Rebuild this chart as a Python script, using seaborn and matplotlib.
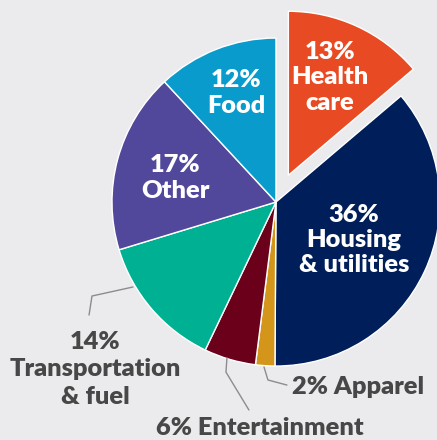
import numpy as np
import matplotlib.pyplot as plt
import seaborn as sns

categories = ["Health care", "Housing & utilities", "Apparel", "Entertainment",
              "Transportation & fuel", "Other", "Food"]
shares = [13.8, 36.3, 1.9, 5.1, 13.2, 17.8, 11.9]
pct_labels = ["13%", "36%", "2%", "6%", "14%", "17%", "12%"]
colors = ["#e84b23", "#001f5a", "#d3961a", "#6a0019", "#00b092", "#52489b", "#0a9bcd"]
explode = [0.18, 0, 0, 0, 0, 0, 0]

bg = "#ebebed"
sns.set_theme(style="white", rc={"figure.facecolor": bg, "axes.facecolor": bg})
plt.rcParams["font.family"] = ["Lato", "DejaVu Sans"]

fig = plt.figure(figsize=(4.37, 4.40), dpi=100)
ax = fig.add_axes([0, 0, 1, 1])

wedges, _ = ax.pie(shares, colors=colors, explode=explode, startangle=90,
                   counterclock=False,
                   wedgeprops=dict(edgecolor="white", linewidth=1))
ax.set_aspect("auto")
ax.set_xlim(-1.683, 0.982)
ax.set_ylim(-1.451, 1.232)
ax.axis("off")

fs = 18.3
wt = "heavy"

# Labels inside the pie
inside = {
    0: ("13%\nHealth\ncare", (0.33, 0.76)),
    1: ("36%\nHousing\n& utilities", (0.476, -0.232)),
    5: ("17%\nOther", (-0.616, 0.146)),
    6: ("12%\nFood", (-0.244, 0.665)),
}
for i, (txt, pos) in inside.items():
    ax.text(pos[0], pos[1], txt, ha="center", va="center", color="white",
            fontsize=fs, fontweight=wt, linespacing=1.18)

# Labels outside with leader lines
grey_txt = "#474747"
line_c = "#8c8c8c"

ax.plot([-0.872, -1.122, -1.14], [-0.518, -0.573, -0.689], color=line_c, lw=1)
ax.text(-1.104, -1.02, "14%\nTransportation\n& fuel", ha="center", va="center",
        color=grey_txt, fontsize=fs, fontweight=wt, linespacing=1.3)

ax.plot([-0.299, -0.305, -0.165], [-0.951, -1.037, -1.268], color=line_c, lw=1)
ax.text(-0.098, -1.378, "6% Entertainment", ha="center", va="center",
        color=grey_txt, fontsize=fs, fontweight=wt)

ax.plot([-0.073, -0.049, 0.067], [-1.006, -1.085, -1.116], color=line_c, lw=1)
ax.text(0.5, -1.128, "2% Apparel", ha="center", va="center",
        color=grey_txt, fontsize=fs, fontweight=wt)

plt.savefig("out.png", dpi=100, facecolor=bg)
